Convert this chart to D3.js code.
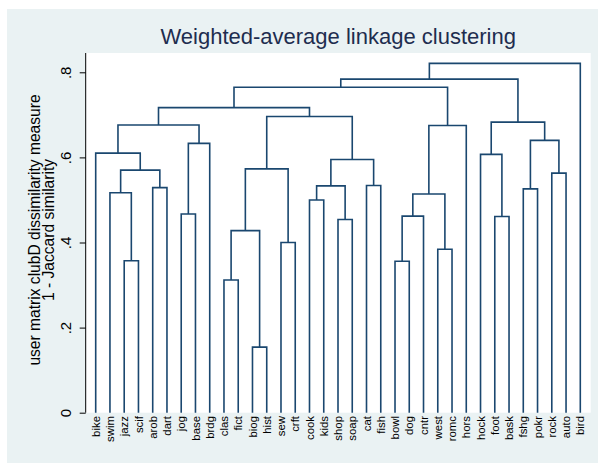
<!DOCTYPE html>
<html>
<head>
<meta charset="utf-8">
<script src="https://cdn.jsdelivr.net/npm/d3@7"></script>
<style>
  body { margin: 0; background: #fff; }
  svg { display: block; font-family: "Liberation Sans", Arial, sans-serif; }
  .link { fill: none; stroke: #1a476f; stroke-width: 1.6; }
  .axis text { font-size: 15px; fill: #000; }
  .axis-title text { font-size: 15.6px; fill: #000; }
  .leaf { font-size: 11.4px; fill: #000; }
</style>
</head>
<body>
<div id="d3-target"></div>
<script>
  // leaf order along the x axis
  const leaves = ['bike', 'swim', 'jazz', 'scif', 'arob', 'dart', 'jog', 'base', 'brdg',
    'clas', 'fict', 'biog', 'hist', 'sew', 'crft', 'cook', 'kids', 'shop', 'soap', 'cat',
    'fish', 'bowl', 'dog', 'cntr', 'west', 'romc', 'hors', 'hock', 'foot', 'bask', 'fshg',
    'pokr', 'rock', 'auto', 'bird'];

  // merges: [left, right, height]; a string is a leaf, a number is an earlier merge
  const merges = [
    ['jazz', 'scif', 0.357],  // 0
    ['swim', 0, 0.517],       // 1
    ['arob', 'dart', 0.529],  // 2
    [1, 2, 0.570],            // 3
    ['bike', 3, 0.610],       // 4
    ['jog', 'base', 0.467],   // 5
    [5, 'brdg', 0.633],       // 6
    [4, 6, 0.676],            // 7
    ['clas', 'fict', 0.312],  // 8
    ['biog', 'hist', 0.154],  // 9
    [8, 9, 0.428],            // 10
    ['sew', 'crft', 0.400],   // 11
    [10, 11, 0.573],          // 12
    ['cook', 'kids', 0.500],  // 13
    ['shop', 'soap', 0.454],  // 14
    [13, 14, 0.533],          // 15
    ['cat', 'fish', 0.534],   // 16
    [15, 16, 0.595],          // 17
    [12, 17, 0.696],          // 18
    [7, 18, 0.717],           // 19
    ['bowl', 'dog', 0.356],   // 20
    [20, 'cntr', 0.462],      // 21
    ['west', 'romc', 0.384],  // 22
    [21, 22, 0.514],          // 23
    [23, 'hors', 0.675],      // 24
    [19, 24, 0.765],          // 25
    ['foot', 'bask', 0.461],  // 26
    ['hock', 26, 0.607],      // 27
    ['fshg', 'pokr', 0.526],  // 28
    ['rock', 'auto', 0.563],  // 29
    [28, 29, 0.640],          // 30
    [27, 30, 0.683],          // 31
    [25, 31, 0.784],          // 32
    [32, 'bird', 0.821]       // 33
  ];

  const yTicks = [0, 0.2, 0.4, 0.6, 0.8];

  const titleText = 'Weighted-average linkage clustering';
  const yTitle = ['user matrix clubD dissimilarity measure', '1 - Jaccard similarity'];

  const W = 598, H = 463;
  const plot = {left: 85.7, right: 590.7, top: 53, bottom: 412.7};

  const x = d3.scalePoint()
    .domain(leaves)
    .range([95.7, 580.3]);

  const y = d3.scaleLinear()
    .domain([0, 0.8])
    .range([plot.bottom, 72.3]);

  const svg = d3.select('#d3-target')
    .append('svg')
    .attr('width', W)
    .attr('height', H);

  // graph region and plot region
  svg.append('rect')
    .attr('x', 7).attr('y', 9)
    .attr('width', W - 7).attr('height', H - 9)
    .attr('fill', '#eaf2f3');
  svg.append('rect')
    .attr('x', plot.left).attr('y', plot.top)
    .attr('width', plot.right - plot.left).attr('height', plot.bottom - plot.top)
    .attr('fill', '#fff');

  // node positions: x is the mean of the two children
  const nodes = merges.map(() => null);
  const pos = c => typeof c === 'string' ? {x: x(c), h: 0} : nodes[c];
  merges.forEach(([a, b, h], i) => {
    const pa = pos(a), pb = pos(b);
    nodes[i] = {x: (pa.x + pb.x) / 2, h, a: pa, b: pb};
  });

  svg.append('g')
    .selectAll('path')
    .data(nodes)
    .enter().append('path')
      .attr('class', 'link')
      .attr('d', d => `M${d.a.x},${y(d.a.h)}V${y(d.h)}H${d.b.x}V${y(d.b.h)}`);

  // y axis
  const yAxis = d3.axisLeft(y)
    .tickValues(yTicks)
    .tickSize(6)
    .tickFormat(d => d === 0 ? '0' : d3.format('.1f')(d).replace(/^0/, ''));

  const gy = svg.append('g')
    .attr('class', 'axis')
    .attr('transform', `translate(${plot.left},0)`)
    .call(yAxis);
  gy.select('.domain').remove();
  gy.selectAll('.tick line').attr('stroke', '#000');
  gy.selectAll('.tick text')
    .attr('transform', 'rotate(-90)')
    .attr('text-anchor', 'middle')
    .attr('x', 0)
    .attr('y', -14.5)
    .attr('dy', 0);

  svg.append('line')
    .attr('x1', plot.left).attr('x2', plot.left)
    .attr('y1', plot.top).attr('y2', plot.bottom)
    .attr('stroke', '#000')
    .attr('stroke-width', 1);

  // axis title
  const midY = 230;
  svg.append('g')
    .attr('class', 'axis-title')
    .selectAll('text')
    .data(yTitle)
    .enter().append('text')
      .attr('transform', (d, i) => `translate(${39.5 + i * 14.5},${midY}) rotate(-90)`)
      .attr('text-anchor', 'middle')
      .text(d => d);

  // leaf labels
  svg.append('g')
    .selectAll('text')
    .data(leaves)
    .enter().append('text')
      .attr('class', 'leaf')
      .attr('transform', d => `translate(${x(d)},416) rotate(-90)`)
      .attr('text-anchor', 'end')
      .attr('dy', '0.36em')
      .text(d => d);

  // title
  svg.append('text')
    .attr('x', (plot.left + plot.right) / 2)
    .attr('y', 43.5)
    .attr('text-anchor', 'middle')
    .attr('font-size', 22)
    .attr('fill', '#1e2d4f')
    .text(titleText);
</script>
</body>
</html>
